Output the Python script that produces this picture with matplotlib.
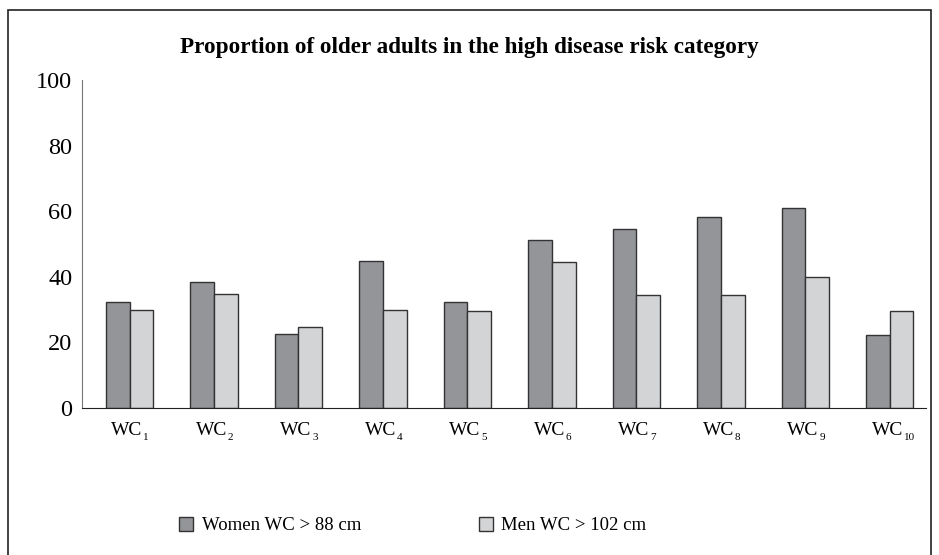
import matplotlib.pyplot as plt
import numpy as np
from matplotlib.patches import Rectangle

plt.rcParams['font.family'] = 'Liberation Serif'

categories = ['1', '2', '3', '4', '5', '6', '7', '8', '9', '10']
women = [32.2, 38.5, 22.5, 44.9, 32.3, 51.3, 54.7, 58.2, 60.8, 22.3]
men = [29.8, 34.7, 24.7, 29.9, 29.6, 44.6, 34.4, 34.4, 39.9, 29.6]
series_labels = ['Women WC > 88 cm', 'Men WC > 102 cm']
yticks = [0, 20, 40, 60, 80, 100]

fig = plt.figure(figsize=(9.39, 5.55), dpi=100)
ax = fig.add_axes([0.0873, 0.265, 0.899, 0.591])

x = np.arange(len(categories))
width = 0.28
edge = '#333333'
b1 = ax.bar(x - width/2, women, width, color='#949599', edgecolor=edge, linewidth=1.0,
            label=series_labels[0])
b2 = ax.bar(x + width/2, men, width, color='#d3d4d6', edgecolor=edge, linewidth=1.0,
            label=series_labels[1])

ax.set_xlim(-0.563, 9.43)
ax.set_ylim(0, 100)
ax.set_yticks(yticks)
ax.set_yticklabels([str(v) for v in yticks], fontsize=17.5)
ax.set_xticks(x)
ax.set_xticklabels([])
ax.tick_params(axis='both', length=0)
ax.tick_params(axis='y', pad=7)

# x labels: "WC" with a small subscript number
for xi, c in zip(x, categories):
    ax.annotate('WC', xy=(xi, 0), xycoords=('data', 'axes fraction'),
                xytext=(9.5, -10), textcoords='offset points',
                ha='right', va='top', fontsize=14)
    ax.annotate(c, xy=(xi, 0), xycoords=('data', 'axes fraction'),
                xytext=(10, -21), textcoords='offset points',
                ha='left', va='center', fontsize=8)

for s in ['top', 'right']:
    ax.spines[s].set_visible(False)
ax.spines['left'].set_color('#777777')
ax.spines['bottom'].set_color('#222222')

fig.text(0.5, 0.914, 'Proportion of older adults in the high disease risk category',
         ha='center', va='center', fontsize=16.7, fontweight='bold')

fig.legend(handles=[b1, b2], loc='center left', bbox_to_anchor=(0.173, 0.053), ncol=2,
           frameon=False, fontsize=13.5, handlelength=0.75, handleheight=0.75,
           handletextpad=0.45, columnspacing=6.27)

# outer frame around the figure
fig.patches.append(Rectangle((8/939, -0.05), 923/939, 1.05 - 10/555, transform=fig.transFigure,
                             fill=False, edgecolor='#222222', linewidth=1.2))

plt.savefig('out.png', dpi=100)
